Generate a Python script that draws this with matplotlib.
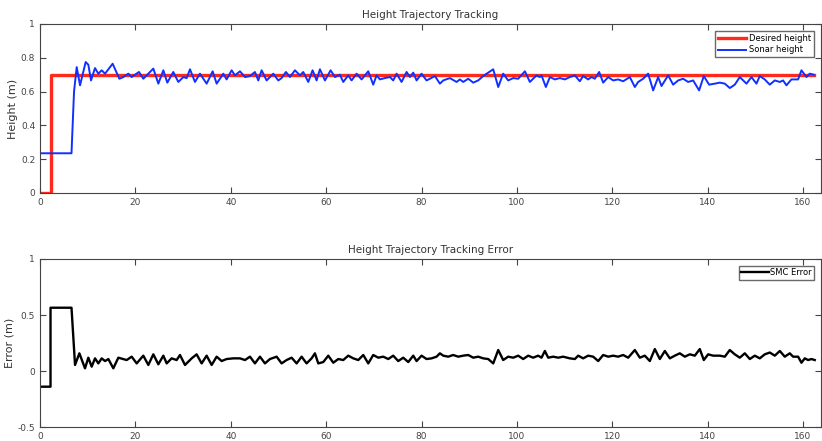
import matplotlib.pyplot as plt

# desired height (step)
t_desired = [0, 2.2, 2.2, 162.3]
h_desired = [0, 0, 0.70, 0.70]

# sonar height
t_sonar = [0, 6.6, 7.13, 7.69, 8.39, 9.57, 10.13, 10.69, 11.53, 12.23, 12.93, 13.63,
           15.23, 16.63, 17.47, 18.52, 19.22, 20.75, 21.66, 23.76, 24.81, 25.86, 26.69,
           27.95, 29.0, 30.05, 30.75, 31.45, 32.49, 33.54, 34.94, 36.2, 37.04, 38.43,
           39.13, 40.18, 40.88, 41.93, 42.98, 44.03, 45.07, 45.77, 46.47, 47.52, 48.92,
           49.97, 50.66, 51.57, 52.41, 53.46, 54.51, 55.2, 56.25, 57.16, 58.0, 58.7,
           59.75, 60.94, 61.84, 62.89, 63.59, 64.64, 65.34, 66.39, 67.44, 68.83, 69.88,
           70.58, 71.28, 72.33, 73.38, 74.07, 74.77, 75.82, 76.87, 77.57, 78.27, 78.97,
           80.01, 81.06, 81.76, 82.81, 83.86, 84.56, 85.95, 87.35, 88.05, 88.75, 89.8,
           90.85, 91.89, 92.94, 95.04, 96.09, 97.13, 98.18, 99.23, 100.28, 101.68,
           102.73, 104.12, 104.82, 105.17, 106.08, 106.92, 107.97, 109.01, 110.06, 111.11,
           112.16, 113.2, 113.9, 114.95, 115.65, 116.35, 117.26, 118.1, 119.15, 120.2,
           121.24, 122.29, 123.69, 124.74, 125.44, 126.49, 127.53, 128.58, 129.63, 130.33,
           131.73, 132.77, 133.82, 134.87, 135.92, 136.97, 138.22, 139.2, 140.32, 141.51,
           142.56, 143.61, 144.65, 145.7, 146.75, 148.15, 149.2, 150.24, 150.94, 151.99,
           153.04, 154.09, 155.14, 155.83, 156.53, 157.58, 158.98, 159.68, 160.73, 161.43,
           162.26]
h_sonar = [0.235, 0.235, 0.60, 0.745, 0.637, 0.775, 0.759, 0.666, 0.739, 0.706, 0.726, 0.706,
           0.765, 0.676, 0.686, 0.706, 0.686, 0.716, 0.676, 0.736, 0.647, 0.726, 0.653,
           0.716, 0.657, 0.686, 0.680, 0.732, 0.657, 0.706, 0.647, 0.720, 0.647, 0.706,
           0.672, 0.726, 0.696, 0.720, 0.686, 0.692, 0.716, 0.666, 0.726, 0.666, 0.706,
           0.666, 0.680, 0.716, 0.686, 0.726, 0.696, 0.716, 0.657, 0.726, 0.666, 0.732,
           0.666, 0.726, 0.686, 0.700, 0.657, 0.696, 0.666, 0.706, 0.672, 0.720, 0.641,
           0.696, 0.672, 0.680, 0.686, 0.666, 0.706, 0.657, 0.716, 0.686, 0.712, 0.666,
           0.706, 0.666, 0.676, 0.692, 0.647, 0.666, 0.680, 0.657, 0.672, 0.657, 0.676,
           0.653, 0.666, 0.692, 0.732, 0.627, 0.706, 0.666, 0.680, 0.676, 0.720,
           0.657, 0.696, 0.686, 0.696, 0.627, 0.686, 0.672, 0.680, 0.672, 0.686,
           0.696, 0.661, 0.692, 0.672, 0.686, 0.676, 0.716, 0.653, 0.686, 0.666,
           0.672, 0.661, 0.686, 0.627, 0.657, 0.676, 0.706, 0.607, 0.686, 0.633,
           0.696, 0.641, 0.666, 0.676, 0.657, 0.666, 0.607, 0.692, 0.641, 0.647,
           0.653, 0.647, 0.621, 0.641, 0.686, 0.647, 0.686, 0.647, 0.692, 0.672,
           0.641, 0.666, 0.657, 0.666, 0.637, 0.672, 0.672, 0.726, 0.686, 0.706,
           0.700]

# SMC tracking error
t_error = [0, 2.2, 2.2, 6.6, 7.34, 8.25, 9.43, 10.13, 10.83, 11.53, 12.23, 12.93, 13.63,
           14.33, 15.37, 16.42, 17.47, 18.17, 19.22, 20.27, 21.66, 22.71, 23.76, 24.81,
           25.86, 26.56, 27.6, 28.65, 29.35, 30.4, 31.8, 32.84, 33.89, 34.94, 35.99,
           37.04, 38.09, 39.13, 40.53, 41.93, 42.98, 44.03, 45.07, 46.12, 47.17, 48.22,
           49.62, 50.66, 51.71, 52.76, 53.81, 54.86, 55.9, 56.95, 57.65, 58.35,
           59.4, 60.45, 61.5, 62.54, 63.59, 64.64, 65.69, 66.74, 67.79, 68.83, 69.88,
           70.93, 71.98, 73.03, 74.07, 75.12, 76.17, 77.22, 78.27, 78.97, 80.01, 81.06,
           82.11, 83.16, 83.86, 84.56, 85.6, 86.65, 87.7, 88.75, 89.8, 90.85, 91.89,
           92.94, 93.99, 95.04, 96.09, 97.13, 98.18, 99.23, 100.28, 101.33, 102.38,
           103.42, 104.47, 105.17, 105.87, 106.57, 107.62, 108.67, 109.71, 111.11,
           112.16, 112.86, 113.9, 114.95, 116.0, 117.05, 118.1, 119.15, 120.2, 121.24,
           122.29, 123.34, 124.74, 125.79, 126.83, 127.88, 128.93, 129.98, 131.03,
           132.08, 133.12, 134.17, 135.22, 136.27, 137.32, 138.36, 139.2, 140.11,
           141.16, 142.56, 143.61, 144.65, 145.7, 146.75, 147.8, 148.85, 149.9, 150.94,
           151.99, 153.04, 154.09, 155.14, 156.18, 157.23, 157.93, 158.98, 159.68,
           160.38, 161.08, 161.78, 162.47]
e_smc = [-0.14, -0.14, 0.565, 0.565, 0.054, 0.158, 0.024, 0.119, 0.039, 0.113, 0.068, 0.113, 0.089,
         0.107, 0.024, 0.119, 0.107, 0.098, 0.128, 0.068, 0.137, 0.054, 0.149, 0.060,
         0.137, 0.068, 0.113, 0.098, 0.143, 0.054, 0.113, 0.149, 0.068, 0.137, 0.054,
         0.128, 0.089, 0.107, 0.113, 0.113, 0.098, 0.128, 0.068, 0.128, 0.068, 0.107,
         0.128, 0.068, 0.098, 0.119, 0.068, 0.128, 0.068, 0.113, 0.158, 0.068,
         0.080, 0.137, 0.074, 0.107, 0.098, 0.137, 0.113, 0.098, 0.143, 0.068, 0.143,
         0.119, 0.128, 0.107, 0.137, 0.089, 0.119, 0.080, 0.137, 0.089, 0.137, 0.107,
         0.113, 0.128, 0.158, 0.137, 0.128, 0.143, 0.128, 0.137, 0.143, 0.119, 0.128,
         0.113, 0.107, 0.068, 0.1875, 0.098, 0.128, 0.119, 0.137, 0.107, 0.137,
         0.119, 0.137, 0.119, 0.179, 0.119, 0.128, 0.119, 0.128, 0.113,
         0.107, 0.137, 0.113, 0.137, 0.128, 0.089, 0.143, 0.128, 0.137, 0.128,
         0.143, 0.119, 0.1875, 0.119, 0.137, 0.089, 0.196, 0.107, 0.179,
         0.113, 0.137, 0.158, 0.128, 0.149, 0.137, 0.196, 0.098, 0.149,
         0.137, 0.137, 0.128, 0.1875, 0.149, 0.119, 0.158, 0.107, 0.137, 0.113,
         0.149, 0.165, 0.137, 0.179, 0.128, 0.158, 0.128, 0.128, 0.074,
         0.113, 0.098, 0.107, 0.098]

x_ticks = [0, 20, 40, 60, 80, 100, 120, 140, 160]

plt.rcParams['font.family'] = 'DejaVu Sans'
fig = plt.figure(figsize=(8.22, 4.41), dpi=100)
ax1 = fig.add_axes([0.0487, 0.5624, 0.9502, 0.3832])
ax2 = fig.add_axes([0.0487, 0.0317, 0.9502, 0.3810])

txt = '#333333'
for ax in (ax1, ax2):
    ax.set_xlim(0, 163.8)
    ax.set_xticks(x_ticks)
    ax.tick_params(direction='in', top=True, right=True, labelsize=6.5,
                   colors='#444444', length=4, width=0.8)
    for s in ax.spines.values():
        s.set_color('#444444')
        s.set_linewidth(0.8)

ax1.plot(t_desired, h_desired, color='#ff2a1a', lw=2.4, label='Desired height')
ax1.plot(t_sonar, h_sonar, color='#1030ff', lw=1.4, label='Sonar height')
ax1.set_ylim(0, 1)
ax1.set_yticks([0, 0.2, 0.4, 0.6, 0.8, 1])
ax1.set_yticklabels(['0', '0.2', '0.4', '0.6', '0.8', '1'])
ax1.set_title('Height Trajectory Tracking', fontsize=7.5, color=txt, pad=4)
ax1.set_ylabel('Height (m)', fontsize=8, color=txt, labelpad=2)
ax1.legend(loc='upper right', fontsize=6, frameon=True, fancybox=False,
           edgecolor='#444444', handlelength=3.4, borderpad=0.35, labelspacing=0.25,
           handletextpad=0.3, borderaxespad=0.9)

ax2.plot(t_error, e_smc, color='black', lw=1.7, label='SMC Error')
ax2.set_ylim(-0.5, 1)
ax2.set_yticks([-0.5, 0, 0.5, 1])
ax2.set_yticklabels(['-0.5', '0', '0.5', '1'])
ax2.set_title('Height Trajectory Tracking Error', fontsize=7.5, color=txt, pad=4)
ax2.set_ylabel('Error (m)', fontsize=8, color=txt, labelpad=2)
ax2.legend(loc='upper right', fontsize=6, frameon=True, fancybox=False,
           edgecolor='#444444', handlelength=3.4, borderpad=0.3,
           handletextpad=0.1, borderaxespad=0.8)

fig.savefig('out.png', dpi=100)
